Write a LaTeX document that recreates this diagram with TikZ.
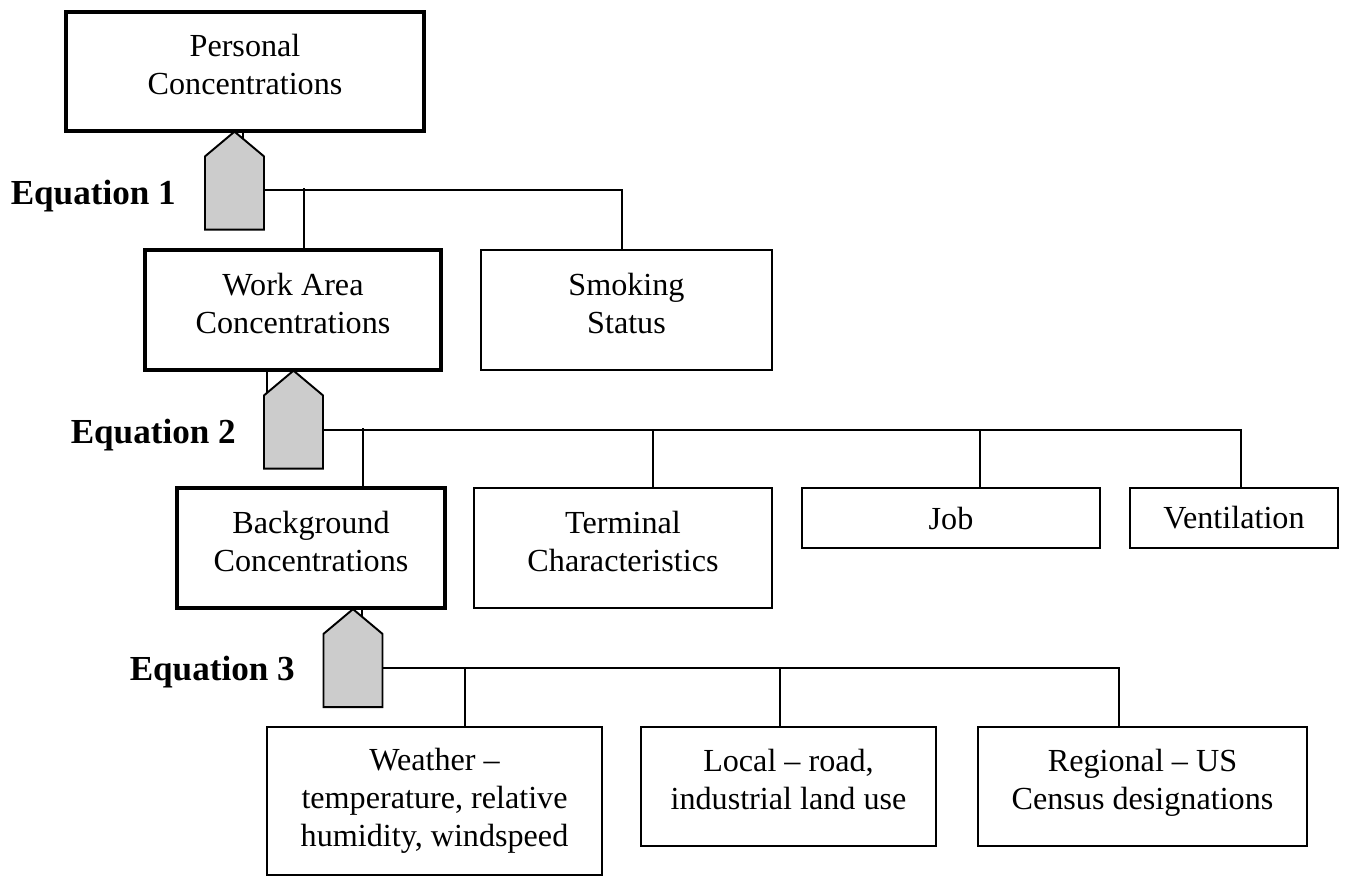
\documentclass[tikz,border=0pt]{standalone}
\usepackage{fontspec}
\setmainfont{Liberation Serif}
\usetikzlibrary{shapes.arrows}

\begin{document}
\begin{tikzpicture}[x=0.02cm, y=-0.02cm,
    box/.style={draw, line width=1.1pt, align=center, inner sep=0pt,
        font=\fontsize{18.3}{21.5}\selectfont},
    mainbox/.style={box, line width=2.3pt},
    lift/.style={text depth=8pt},
    eqarrow/.style={single arrow, draw, line width=1.1pt, fill=black!20,
        single arrow head extend=0pt, single arrow tip angle=100,
        minimum width=1.18cm, minimum height=1.96cm, inner sep=0pt,
        shape border rotate=90},
    eqlabel/.style={anchor=east, font=\fontsize{20}{24}\bfseries\selectfont},
    link/.style={line width=1.1pt}]
                \useasboundingbox (0,0) rectangle (1346,876);
                % concentration boxes
                \node[mainbox, lift, minimum width=7.16cm, minimum height=2.38cm] (P) at (245,71.5) {Personal\\Concentrations};
                \node[mainbox, lift, minimum width=5.92cm, minimum height=2.4cm] (W) at (293,310) {Work Area\\Concentrations};
                \node[mainbox, lift, minimum width=5.36cm, minimum height=2.4cm] (B) at (311,548) {Background\\Concentrations};
                % factor boxes
                \node[box, lift, minimum width=5.82cm, minimum height=2.4cm] (S) at (626.5,310) {Smoking\\Status};
                \node[box, lift, minimum width=5.96cm, minimum height=2.4cm] (T) at (623,548) {Terminal\\Characteristics};
                \node[box, minimum width=5.96cm, minimum height=1.2cm] (J) at (951,518) {Job};
                \node[box, minimum width=4.16cm, minimum height=1.2cm] (V) at (1234,518) {Ventilation};
                \node[box, minimum width=6.7cm, minimum height=2.96cm] (We) at (434.5,801) {Weather --\\temperature, relative\\humidity, windspeed};
                \node[box, lift, minimum width=5.9cm, minimum height=2.38cm] (L) at (788.5,786.5) {Local -- road,\\industrial land use};
                \node[box, lift, minimum width=6.58cm, minimum height=2.38cm] (R) at (1142.5,786.5) {Regional -- US\\Census designations};
                % short stubs behind the arrows
                \draw[link] ([xshift=-0.04cm]P.south) -- ++(0,20);
                \draw[link] ([xshift=-0.52cm]W.south) -- ++(0,30);
                \draw[link] ([xshift=1.02cm]B.south) -- ++(0,20);
                % equation arrows
                \node[eqarrow] (E1) at (234.5,193) {};
                \node[eqarrow] (E2) at (293.5,432) {};
                \node[eqarrow] (E3) at (353,670.5) {};
                \node[eqlabel] (eq1) at (182,196) {Equation 1};
                \node[eqlabel] (eq2) at (242,435) {Equation 2};
                \node[eqlabel] (eq3) at (301,672) {Equation 3};
                % tree lines
                \draw[link] (E1.east) ++(0,-3) -| ([xshift=-0.09cm]S.north);
                \draw[link] ([xshift=0.22cm]W.north) -- ++(0,-60);
                \draw[link] (E2.east) ++(0,-2) -| ([xshift=0.14cm]V.north);
                \foreach \n/\dx in {B/1.04, T/0.6, J/0.58}
                    \draw[link] ([xshift=\dx cm]\n.north) -- ++(0,-58);
                \draw[link] (E3.east) ++(0,-2.5) -| ([xshift=-0.47cm]R.north);
                \foreach \n/\dx in {We/0.61, L/-0.17}
                    \draw[link] ([xshift=\dx cm]\n.north) -- ++(0,-59);
            \end{tikzpicture}
\end{document}
